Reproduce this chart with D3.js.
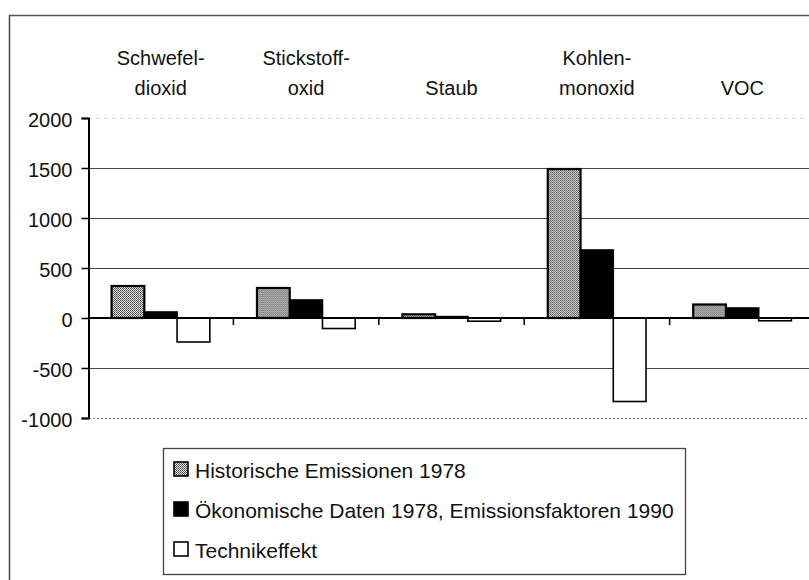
<!DOCTYPE html>
<html>
<head>
<meta charset="utf-8">
<script src="https://cdn.jsdelivr.net/npm/d3@7"></script>
<style>
  html, body { margin: 0; padding: 0; background: #fff; }
  svg { display: block; }
  text { font-family: "Liberation Sans", Arial, Helvetica, sans-serif; fill: #111; }
</style>
</head>
<body>
<svg id="chart" width="809" height="580"></svg>
<script>
// ---- data ----
const categories = ["Schwefeldioxid", "Stickstoffoxid", "Staub", "Kohlenmonoxid", "VOC"];
const categoryLabels = [["Schwefel-", "dioxid"], ["Stickstoff-", "oxid"], ["Staub"], ["Kohlen-", "monoxid"], ["VOC"]];
const seriesNames = ["Historische Emissionen 1978", "Ökonomische Daten 1978, Emissionsfaktoren 1990", "Technikeffekt"];
const historische = [320, 300, 37, 1490, 135];
const oekonomische = [60, 180, 14, 680, 100];
const technikeffekt = [-240, -105, -32, -835, -28];
const yTicks = [-1000, -500, 0, 500, 1000, 1500, 2000];

const seriesValues = [historische, oekonomische, technikeffekt];
const rows = categories.map((c, i) => ({
  cat: c,
  values: seriesNames.map((s, j) => ({ series: s, idx: j, value: seriesValues[j][i] }))
}));

// ---- layout ----
const svg = d3.select("#chart");
const fontSize = 20;
const legendFontSize = 21;

const defs = svg.append("defs");
const pat = defs.append("pattern").attr("id", "stipple")
  .attr("patternUnits", "userSpaceOnUse").attr("width", 2).attr("height", 2);
pat.append("rect").attr("width", 2).attr("height", 2).attr("fill", "#dcdcdc");
pat.append("rect").attr("x", 0).attr("y", 0).attr("width", 1).attr("height", 1).attr("fill", "#4a4a4a");
pat.append("rect").attr("x", 1).attr("y", 1).attr("width", 1).attr("height", 1).attr("fill", "#6a6a6a");

const fills = ["url(#stipple)", "#000", "#fff"];

const x0 = d3.scaleBand().domain(categories).range([88, 815]).paddingInner(0).paddingOuter(0);
const x1 = d3.scaleBand().domain(seriesNames).range([0, x0.bandwidth()]).paddingInner(0).paddingOuter(0.72);
const y = d3.scaleLinear().domain([-1000, 2000]).range([418, 118]);

// outer frame (top and left)
svg.append("line").attr("x1", 9).attr("x2", 809).attr("y1", 15.5).attr("y2", 15.5)
  .attr("stroke", "#555").attr("stroke-width", 1.5);
svg.append("line").attr("x1", 9.5).attr("x2", 9.5).attr("y1", 15).attr("y2", 580)
  .attr("stroke", "#444").attr("stroke-width", 1.5);

// gridlines
const grid = svg.append("g");
grid.selectAll("line").data(yTicks.filter(t => t !== 0)).join("line")
  .attr("x1", 89).attr("x2", 809)
  .attr("y1", d => Math.round(y(d)) + 0.5).attr("y2", d => Math.round(y(d)) + 0.5)
  .attr("stroke", d => d === 2000 ? "#bbb" : (d === -1000 ? "#777" : "#444"))
  .attr("stroke-width", d => (d === 2000 || d === -1000) ? 1 : 1.2)
  .attr("stroke-dasharray", d => d === 2000 ? "2,6" : (d === -1000 ? "2,2" : null));

// bars
const groups = svg.append("g").selectAll("g").data(rows).join("g")
  .attr("transform", d => `translate(${x0(d.cat)},0)`);
groups.selectAll("rect").data(d => d.values).join("rect")
  .attr("x", d => x1(d.series))
  .attr("width", x1.bandwidth())
  .attr("y", d => y(Math.max(0, d.value)))
  .attr("height", d => Math.abs(y(d.value) - y(0)))
  .attr("fill", d => fills[d.idx])
  .attr("stroke", "#000")
  .attr("stroke-width", d => d.idx === 0 ? 2.2 : 1.6);

// category boundary ticks on the zero line
svg.append("g").selectAll("line").data(categories.slice(1)).join("line")
  .attr("x1", d => x0(d)).attr("x2", d => x0(d))
  .attr("y1", y(0)).attr("y2", y(0) + 7)
  .attr("stroke", "#000").attr("stroke-width", 1.5);
svg.append("line").attr("x1", 88).attr("x2", 809).attr("y1", y(0)).attr("y2", y(0))
  .attr("stroke", "#000").attr("stroke-width", 2.2);

// y axis
const yAxis = d3.axisLeft(y).tickValues(yTicks).tickSize(7).tickPadding(9).tickFormat(d => String(d));
const yAxisG = svg.append("g").attr("transform", "translate(88.5,0)").call(yAxis);
yAxisG.select(".domain").attr("stroke", "#000").attr("stroke-width", 2);
yAxisG.selectAll(".tick line").attr("stroke", "#000").attr("stroke-width", 1.5);
yAxisG.selectAll(".tick text")
  .attr("font-family", '"Liberation Sans", Arial, sans-serif')
  .attr("font-size", fontSize).attr("fill", "#111").attr("dy", "0.42em");

// category labels at the top
const catLab = svg.append("g").selectAll("text").data(categories).join("text")
  .attr("x", d => x0(d) + x0.bandwidth() / 2)
  .attr("text-anchor", "middle")
  .attr("font-size", fontSize);
catLab.each(function (d, i) {
  const lines = categoryLabels[i];
  const t = d3.select(this);
  lines.forEach((ln, k) => {
    const base = lines.length === 2 ? (k === 0 ? 65 : 95) : 95;
    t.append("tspan").attr("x", x0(d) + x0.bandwidth() / 2).attr("y", base).text(ln);
  });
});

// legend
const legend = svg.append("g");
legend.append("rect").attr("x", 163.5).attr("y", 448.5).attr("width", 522).attr("height", 126)
  .attr("fill", "#fff").attr("stroke", "#444").attr("stroke-width", 1.3);
const li = legend.selectAll("g").data(seriesNames).join("g")
  .attr("transform", (d, i) => `translate(0,${462 + i * 40})`);
li.append("rect").attr("x", 174).attr("y", 0).attr("width", 14).attr("height", 14)
  .attr("fill", (d, i) => fills[i])
  .attr("stroke", "#000").attr("stroke-width", 1.6);
li.append("text").attr("x", 195).attr("y", 16).attr("font-size", legendFontSize).text(d => d);
</script>
</body>
</html>
